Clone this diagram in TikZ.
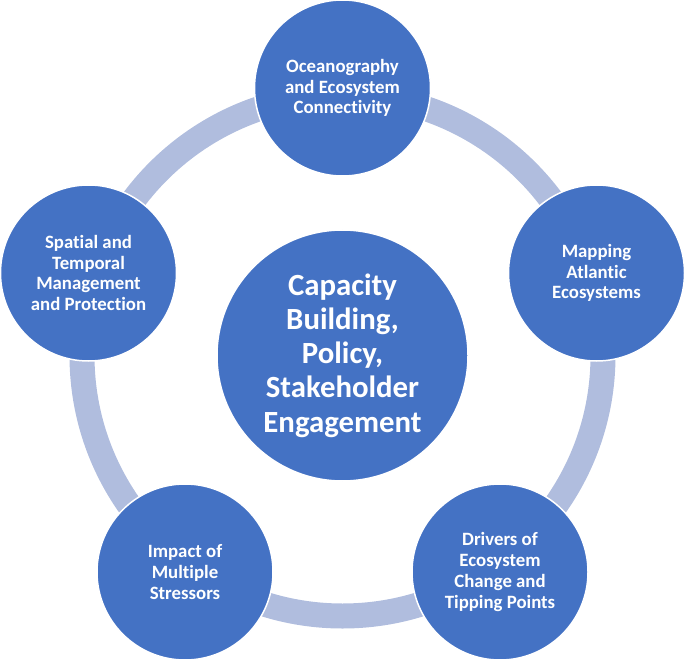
\documentclass[tikz,border=0pt]{standalone}
\usepackage{fontspec}
\setmainfont{Carlito}[Ligatures=NoCommon]
\definecolor{nodeblue}{RGB}{68,114,196}
\definecolor{ringblue}{RGB}{176,189,222}
\begin{document}
\begin{tikzpicture}[x=1pt,y=-1pt,
  outer/.style={circle,fill=nodeblue,draw=white,line width=1.5pt,minimum size=176pt,inner sep=0pt,
    text=white,align=center,font=\fontsize{18.8}{20.7}\selectfont\bfseries},
  inner/.style={circle,fill=nodeblue,draw=white,line width=1.5pt,minimum size=251pt,inner sep=0pt,
    text=white,align=center,font=\fontsize{30.8}{34.3}\selectfont\bfseries},
  ring/.style={draw=ringblue,line width=25pt}]
\useasboundingbox (0,0) rectangle (685,660);
\coordinate (c) at (342.5,355.5);
\draw[ring] (c) circle[radius=260.5];
\node[outer] (top) at (342.5,88) {Oceanography\\and Ecosystem\\Connectivity};
\node[outer] (right) at (596.5,273) {Mapping\\Atlantic\\Ecosystems};
\node[outer] (br) at (500,572) {Drivers of\\Ecosystem\\Change and\\Tipping Points};
\node[outer] (bl) at (185,572) {Impact of\\Multiple\\Stressors};
\node[outer] (left) at (88.5,273) {Spatial and\\Temporal\\Management\\and Protection};
\node[inner] (center) at (c) {Capacity\\Building,\\Policy,\\Stakeholder\\Engagement};
\end{tikzpicture}
\end{document}
